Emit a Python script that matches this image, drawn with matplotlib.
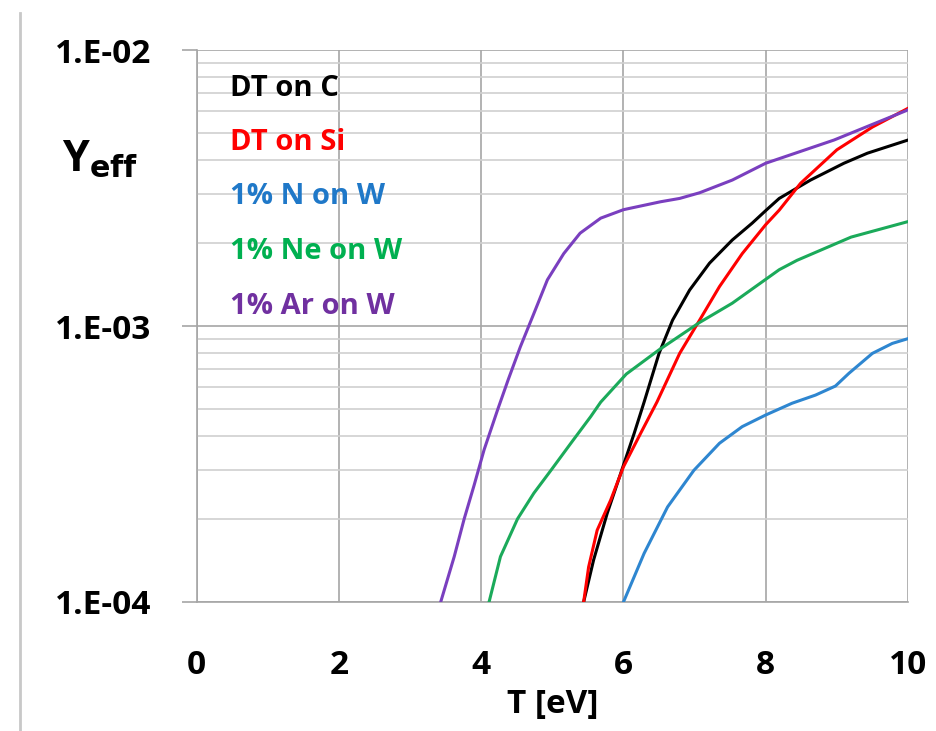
#!/usr/bin/env python3
"""Effective sputtering yield vs plasma temperature (log scale)."""

import numpy as np
import matplotlib
matplotlib.use('Agg')
import matplotlib.pyplot as plt
from matplotlib.lines import Line2D

plt.rcParams['font.family'] = ['Open Sans', 'DejaVu Sans']
plt.rcParams['font.weight'] = 'bold'

# ---- data ----
t_c = [5.44, 5.58, 5.77, 5.96, 6.15, 6.29, 6.50, 6.69, 6.93, 7.21, 7.53, 7.81, 8.0,
       8.19, 8.63, 9.10, 9.43, 10.0]
y_c = [1.0e-4, 1.42e-4, 2.09e-4, 2.92e-4, 4.08e-4, 5.3e-4, 7.96e-4, 1.05e-3, 1.35e-3,
       1.69e-3, 2.05e-3, 2.36e-3, 2.62e-3, 2.90e-3, 3.38e-3, 3.89e-3, 4.23e-3, 4.72e-3]

t_si = [5.44, 5.51, 5.63, 5.82, 6.0, 6.24, 6.47, 6.79, 7.07, 7.35, 7.67, 8.0, 8.19,
        8.49, 9.0, 9.5, 10.0]
y_si = [1.0e-4, 1.34e-4, 1.82e-4, 2.34e-4, 3.09e-4, 4.08e-4, 5.3e-4, 7.96e-4, 1.05e-3,
        1.39e-3, 1.83e-3, 2.33e-3, 2.63e-3, 3.29e-3, 4.35e-3, 5.26e-3, 6.15e-3]

t_n = [6.0, 6.29, 6.62, 6.99, 7.35, 7.67, 8.0, 8.37, 8.70, 8.98, 9.17, 9.50, 9.78, 10.0]
y_n = [1.0e-4, 1.5e-4, 2.21e-4, 3.0e-4, 3.76e-4, 4.32e-4, 4.76e-4, 5.25e-4, 5.62e-4,
       6.06e-4, 6.74e-4, 7.96e-4, 8.65e-4, 9.0e-4]

t_ne = [4.11, 4.27, 4.51, 4.74, 4.98, 5.26, 5.54, 5.68, 6.04, 6.50, 7.07, 7.53, 8.19,
        8.44, 9.2, 10.0]
y_ne = [1.0e-4, 1.46e-4, 2.0e-4, 2.48e-4, 3.0e-4, 3.76e-4, 4.7e-4, 5.3e-4, 6.7e-4,
        8.2e-4, 1.03e-3, 1.21e-3, 1.60e-3, 1.73e-3, 2.10e-3, 2.39e-3]

t_ar = [3.43, 3.62, 3.76, 3.90, 4.04, 4.23, 4.38, 4.55, 4.74, 4.93, 5.16, 5.39, 5.68,
        6.0, 6.52, 6.79, 7.07, 7.53, 8.0, 8.96, 10.0]
y_ar = [1.0e-4, 1.46e-4, 2.0e-4, 2.65e-4, 3.56e-4, 4.97e-4, 6.4e-4, 8.41e-4, 1.11e-3,
        1.47e-3, 1.83e-3, 2.17e-3, 2.46e-3, 2.64e-3, 2.82e-3, 2.90e-3, 3.04e-3, 3.38e-3,
        3.89e-3, 4.72e-3, 6.07e-3]

labels = ["DT on C", "DT on Si", "1% N on W", "1% Ne on W", "1% Ar on W"]
colors = ["#000000", "#FF0000", "#2E86D0", "#1BAA5A", "#7A3FBF"]
text_colors = ["#000000", "#FF0000", "#1F78C8", "#00B050", "#7030A0"]

x_ticks = [0, 2, 4, 6, 8, 10]
y_ticks = [1e-4, 1e-3, 1e-2]
y_ticklabels = ["1.E-04", "1.E-03", "1.E-02"]

# ---- figure ----
fig = plt.figure(figsize=(9.37, 7.31), dpi=100)
ax = fig.add_axes([0.210, 0.1765, 0.759, 0.755])

series = [(t_c, y_c), (t_si, y_si), (t_n, y_n), (t_ne, y_ne), (t_ar, y_ar)]
for (t, y), c in zip(series, colors):
    ax.plot(t, y, color=c, linewidth=2.2, solid_joinstyle='round', zorder=3)

ax.set_yscale('log')
ax.set_xlim(0, 10)
ax.set_ylim(1e-4, 1e-2)

# gridlines
ax.set_xticks(x_ticks)
ax.set_xticklabels([str(v) for v in x_ticks])
ax.set_yticks(y_ticks)
ax.set_yticklabels(y_ticklabels)
ax.yaxis.set_minor_locator(matplotlib.ticker.LogLocator(base=10, subs=np.arange(2, 10)))
ax.yaxis.set_minor_formatter(matplotlib.ticker.NullFormatter())
ax.grid(which='major', axis='both', color='#A6A6A6', linewidth=1.2)
ax.grid(which='minor', axis='y', color='#D0D0D0', linewidth=1.2)
ax.set_axisbelow(True)

for s in ['top', 'right']:
    ax.spines[s].set_visible(False)
for s in ['left', 'bottom']:
    ax.spines[s].set_color('#A6A6A6')
    ax.spines[s].set_linewidth(1.2)

ax.tick_params(axis='y', which='major', length=11, width=1.2, color='#A6A6A6',
               pad=22, labelsize=24)
ax.tick_params(axis='y', which='minor', length=0)
ax.tick_params(axis='x', which='major', length=0, pad=34, labelsize=24)

ax.set_xlabel("T [eV]", fontsize=24, fontweight='bold', labelpad=4)

# legend as coloured text
for i, (lab, c) in enumerate(zip(labels, text_colors)):
    fig.text(230 / 937, 1 - (88 + 54.5 * i) / 731, lab, color=c, fontsize=21,
             fontweight='bold', va='center', ha='left')

fig.text(62 / 937, 1 - 160 / 731, r"Y$_{\mathbf{eff}}$", fontsize=31,
         fontweight='bold', va='center', ha='left')

# grey frame line on the left side of the slide
fig.add_artist(Line2D([20 / 937, 20 / 937], [0, 1 - 13 / 731], color='#C8C8C8',
                      linewidth=2))

fig.savefig("out.png", dpi=100)
